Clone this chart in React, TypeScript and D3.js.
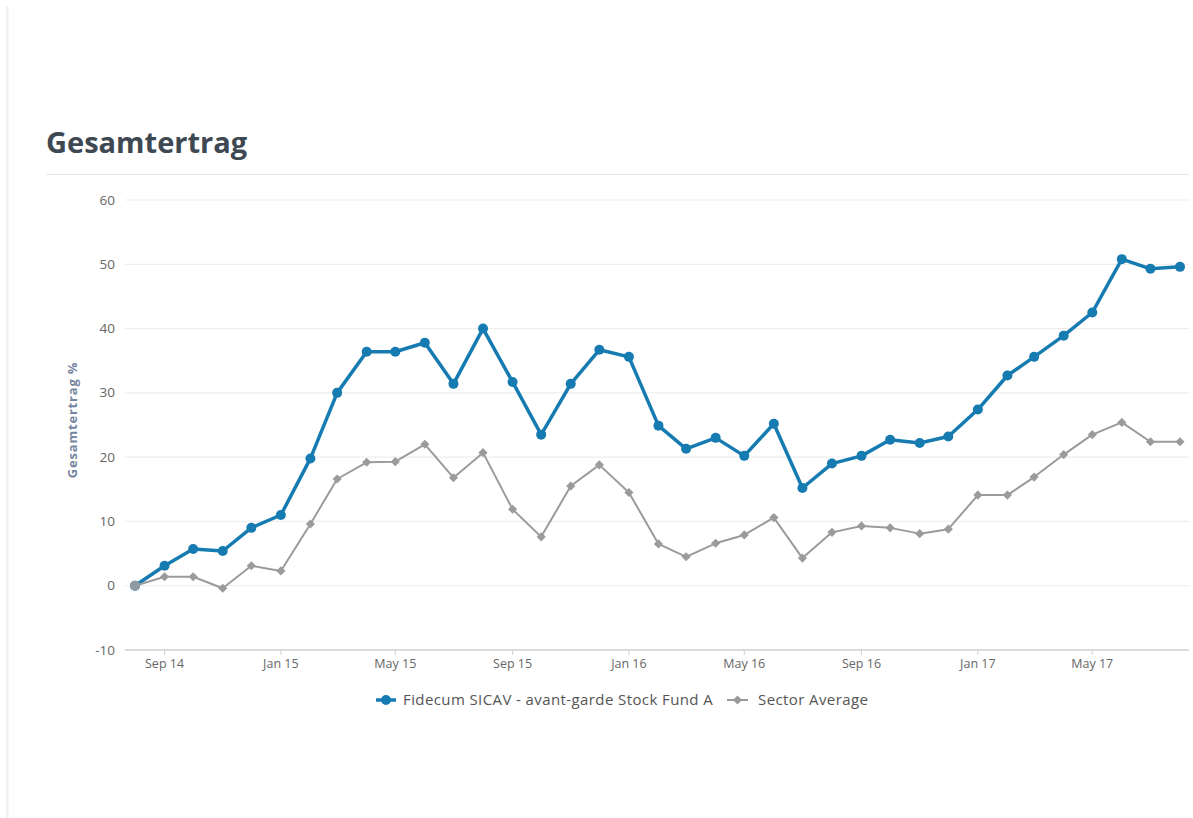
import React from "react";
import * as d3 from "d3";

const startMonth = new Date(2014, 7, 1); // Aug 2014
const fundValues = [
  0, 3.1, 5.7, 5.4, 9.0, 11.0, 19.8, 30.0, 36.4, 36.4, 37.8, 31.4, 40.0, 31.7, 23.5,
  31.4, 36.7, 35.6, 24.9, 21.3, 23.0, 20.2, 25.2, 15.2, 19.0, 20.2, 22.7, 22.2, 23.2,
  27.4, 32.7, 35.6, 38.9, 42.5, 50.8, 49.3, 49.6,
];
const sectorValues = [
  0, 1.4, 1.4, -0.4, 3.1, 2.3, 9.6, 16.6, 19.2, 19.3, 22.0, 16.8, 20.7, 11.9, 7.6,
  15.5, 18.8, 14.5, 6.5, 4.5, 6.6, 7.9, 10.6, 4.3, 8.3, 9.3, 9.0, 8.1, 8.8,
  14.1, 14.1, 16.9, 20.4, 23.5, 25.4, 22.4, 22.4,
];
const yTicks = [-10, 0, 10, 20, 30, 40, 50, 60];
const xTickDates = [
  new Date(2014, 8, 1), new Date(2015, 0, 1), new Date(2015, 4, 1), new Date(2015, 8, 1),
  new Date(2016, 0, 1), new Date(2016, 4, 1), new Date(2016, 8, 1), new Date(2017, 0, 1),
  new Date(2017, 4, 1),
];
const seriesNames = ["Fidecum SICAV - avant-garde Stock Fund A", "Sector Average"];
const titleText = "Gesamtertrag";
const yAxisTitle = "Gesamtertrag %";

const BLUE = "#167bb0";
const GREY = "#9b9b9b";
const FONT = "'Open Sans', Lato, sans-serif";

export default function App() {
  const W = 1193, H = 818;
  const plotL = 125, plotR = 1189, plotT = 200, plotB = 650;
  const dates = fundValues.map((_, i) => d3.timeMonth.offset(startMonth, i));
  const x = d3.scaleTime().domain([dates[0], dates[dates.length - 1]]).range([135, 1180]);
  const y = d3.scaleLinear().domain([-10, 60]).range([plotB, plotT]);
  const fmt = d3.timeFormat("%b %y");
  const line = d3.line<number>().x((_, i) => x(dates[i])).y((v) => y(v));
  const diamond = d3.symbol().type(d3.symbolSquare).size(42)() as string;

  return (
    <svg width={W} height={H} style={{ position: "absolute", left: 0, top: 0, background: "#fff" }}>
      <line x1={7.5} x2={7.5} y1={6} y2={H} stroke="#eceef2" strokeWidth={2} />
      <text x={46} y={153} fontFamily={FONT} fontWeight={700} fontSize={29} fill="#3e4852">
        {titleText}
      </text>
      <line x1={46} x2={1189} y1={174.5} y2={174.5} stroke="#e6e6e6" strokeWidth={1} />

      {yTicks.map((t) => (
        <g key={t}>
          <line x1={plotL} x2={plotR} y1={y(t)} y2={y(t)} stroke={t === -10 ? "#d0d0d0" : "#eeeeee"} strokeWidth={t === -10 ? 1.5 : 1.2} />
          <text x={115} y={y(t) + 4.5} textAnchor="end" fontFamily={FONT} fontSize={13.5} fill="#666">
            {t}
          </text>
        </g>
      ))}
      <text
        transform={`translate(77,420) rotate(-90)`}
        textAnchor="middle"
        fontFamily={FONT}
        fontWeight={700}
        fontSize={13}
        letterSpacing={0.8}
        fill="#7586a0"
      >
        {yAxisTitle}
      </text>

      {xTickDates.map((d, i) => (
        <g key={i}>
          <line x1={x(d)} x2={x(d)} y1={plotB} y2={plotB + 5} stroke="#d0d0d0" />
          <text x={x(d)} y={plotB + 18} textAnchor="middle" fontFamily={FONT} fontSize={12.5} fill="#666">
            {fmt(d)}
          </text>
        </g>
      ))}

      <path d={line(fundValues) || ""} fill="none" stroke={BLUE} strokeWidth={3.5} strokeLinejoin="round" />
      {fundValues.map((v, i) => (
        <circle key={i} cx={x(dates[i])} cy={y(v)} r={5} fill={BLUE} />
      ))}
      <path d={line(sectorValues) || ""} fill="none" stroke={GREY} strokeWidth={2} strokeLinejoin="round" />
      {sectorValues.map((v, i) =>
        i === 0 ? (
          <circle key={i} cx={x(dates[i])} cy={y(v)} r={5} fill="#8f9aa3" />
        ) : (
          <path key={i} d={diamond} transform={`translate(${x(dates[i])},${y(v)}) rotate(45)`} fill={GREY} />
        )
      )}

      <g fontFamily={FONT} fontSize={15} letterSpacing={0.4} fill="#555">
        <line x1={376} x2={396} y1={700} y2={700} stroke={BLUE} strokeWidth={3.5} />
        <circle cx={386} cy={700} r={5} fill={BLUE} />
        <text x={403} y={705}>{seriesNames[0]}</text>
        <line x1={727} x2={748} y1={700} y2={700} stroke={GREY} strokeWidth={2} />
        <path d={diamond} transform="translate(737.5,700) rotate(45)" fill={GREY} />
        <text x={758} y={705}>{seriesNames[1]}</text>
      </g>
    </svg>
  );
}
